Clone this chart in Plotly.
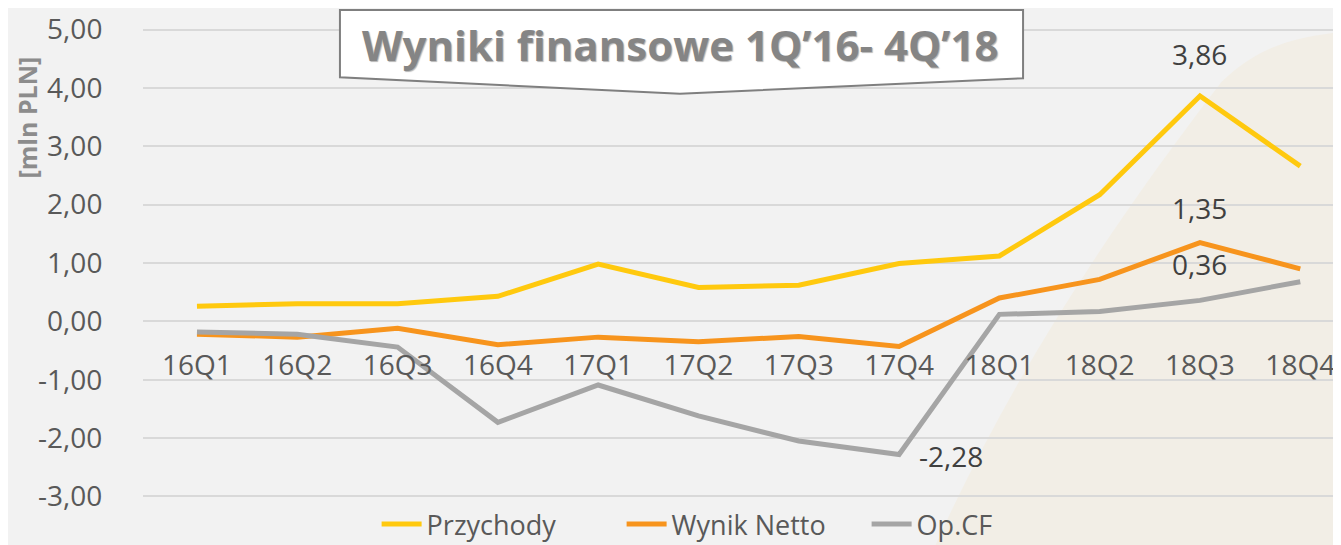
import plotly.graph_objects as go

quarters = ["16Q1", "16Q2", "16Q3", "16Q4", "17Q1", "17Q2", "17Q3", "17Q4",
            "18Q1", "18Q2", "18Q3", "18Q4"]
przychody = [0.26, 0.30, 0.30, 0.43, 0.98, 0.58, 0.62, 0.99, 1.12, 2.17, 3.86, 2.66]
wynik_netto = [-0.22, -0.27, -0.12, -0.40, -0.27, -0.35, -0.26, -0.43, 0.40, 0.72, 1.35, 0.90]
op_cf = [-0.18, -0.22, -0.44, -1.73, -1.09, -1.62, -2.05, -2.28, 0.12, 0.17, 0.36, 0.68]
y_ticks = [-3, -2, -1, 0, 1, 2, 3, 4, 5]

# which points get a data label: (series, index, xshift, yshift)
labelled = [(przychody, 10, 0, 42), (wynik_netto, 10, 0, 35),
            (op_cf, 10, 0, 36), (op_cf, 7, 52, -2)]


def pl(v):
    # polish style number: comma decimal, plain hyphen minus
    return f"{v:.2f}".replace(".", ",")


fig = go.Figure()
for name, vals, col in [("Przychody", przychody, "#ffc90e"),
                        ("Wynik Netto", wynik_netto, "#f7941d"),
                        ("Op.CF", op_cf, "#a5a5a5")]:
    fig.add_trace(go.Scatter(x=list(range(len(quarters))), y=vals, name=name,
                             mode="lines", line=dict(color=col, width=5),
                             hoverinfo="skip"))

for vals, i, dx, dy in labelled:
    fig.add_annotation(x=i, y=vals[i], text=pl(vals[i]),
                       showarrow=False, xshift=dx, yshift=dy,
                       font=dict(family="Open Sans", size=28, color="#404040"))

# y-axis title
fig.add_annotation(xref="paper", yref="paper", x=-0.0968, y=0.79, text="<b>[mln PLN]</b>",
                   xanchor="center", yanchor="middle", textangle=-90, showarrow=False,
                   font=dict(family="Open Sans", size=25, color="#8c8c8c"))

# title callout box (paper coords, sticks slightly above the plot area)
fig.add_shape(type="path", xref="paper", yref="paper", layer="above",
              path="M 0.1644 1.004 L 0.7346 1.004 L 0.7346 0.868 L 0.4482 0.837 L 0.1644 0.870 Z",
              fillcolor="white", line=dict(color="#7f7f7f", width=2))
fig.add_annotation(x=0.4482, y=0.935, xref="paper", yref="paper", showarrow=False,
                   xanchor="center", yanchor="middle",
                   text="<b>Wyniki finansowe 1Q’16- 4Q’18</b>",
                   font=dict(family="Open Sans", size=42, color="#858585",
                             shadow="1px 1px 1px #b5b5b5"))

# beige background sweep on the right
fig.add_shape(type="path", xref="paper", yref="paper", layer="below",
              path="M 0.66 -0.07 C 0.72 0.25, 0.80 0.55, 0.90 0.86 "
                   "C 0.93 0.93, 0.96 0.95, 1.0 0.96 L 1.0 -0.07 Z",
              fillcolor="#f2eee6", line=dict(width=0))

# page has an 8px body margin, so the figure is 8px smaller than the window
fig.update_layout(
    width=1333, height=537,
    margin=dict(l=135, r=0, t=4, b=31, autoexpand=False),
    paper_bgcolor="#f2f2f2", plot_bgcolor="rgba(0,0,0,0)",
    showlegend=True,
    legend=dict(orientation="h", x=0.195, xanchor="left", yref="paper",
                y=-0.021, yanchor="middle", entrywidth=190,
                font=dict(family="Open Sans", size=27, color="#595959"),
                itemwidth=40, bgcolor="rgba(0,0,0,0)"),
    xaxis=dict(tickmode="array", tickvals=list(range(len(quarters))), ticktext=quarters,
               range=[-0.538, 11.406], showgrid=False, zeroline=False, showline=False,
               anchor="free", position=0.3825, ticks="outside", ticklen=18,
               tickcolor="rgba(0,0,0,0)", automargin=False,
               tickfont=dict(family="Open Sans", size=28, color="#595959")),
    yaxis=dict(range=[-3.3, 5.3], tickmode="array", tickvals=y_ticks,
               ticktext=[pl(v) for v in y_ticks],
               showgrid=True, gridcolor="#d9d9d9", gridwidth=2,
               zeroline=False, ticks="outside", ticklen=34, tickcolor="rgba(0,0,0,0)",
               automargin=False,
               tickfont=dict(family="Open Sans", size=28, color="#595959")),
)

fig.write_html("out.html")
